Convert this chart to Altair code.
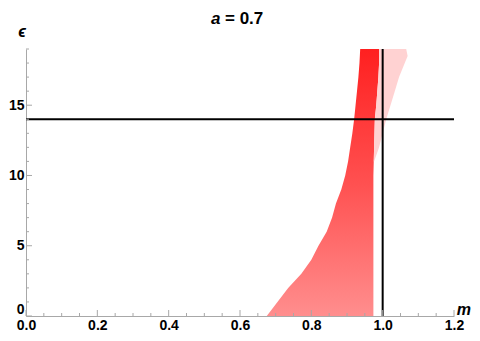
import altair as alt
import pandas as pd

# dense region boundaries (epsilon -> m range)
eps_levels = [0, 1, 2, 3, 4, 5, 6, 7, 8, 9, 10, 11, 12, 13, 14, 15, 16, 17, 18, 19]
m_left = [0.675, 0.705, 0.735, 0.772, 0.800, 0.820, 0.843, 0.858, 0.869, 0.884,
          0.895, 0.903, 0.909, 0.915, 0.920, 0.924, 0.928, 0.932, 0.935, 0.937]
m_right = [0.974, 0.974, 0.974, 0.974, 0.974, 0.974, 0.974, 0.974, 0.974, 0.974,
           0.974, 0.975, 0.976, 0.977, 0.978, 0.982, 0.985, 0.988, 0.990, 0.990]

# sparse scattered region to the right at large epsilon
eps_sparse = [11, 12, 13, 14, 15, 16, 17, 18, 18.5, 19]
m_sparse_in = [0.975, 0.976, 0.977, 0.978, 0.982, 0.985, 0.988, 0.990, 0.990, 0.990]
m_sparse_out = [0.976, 0.990, 1.000, 1.010, 1.022, 1.034, 1.046, 1.062, 1.070, 1.066]

# reference lines
vline_m = [1.0]
hline_eps = [14.0]

# axis ticks
x_major = [0.0, 0.2, 0.4, 0.6, 0.8, 1.0, 1.2]
x_minor = [0.05, 0.1, 0.15, 0.25, 0.3, 0.35, 0.45, 0.5, 0.55, 0.65, 0.7, 0.75,
           0.85, 0.9, 0.95, 1.05, 1.1, 1.15]
y_major = [0, 5, 10, 15]
y_minor = [1, 2, 3, 4, 6, 7, 8, 9, 11, 12, 13, 14, 16, 17, 18, 19]

W, H = 428, 267
FONT = "Liberation Sans"
AX = "#a8a8a8"

xs = alt.Scale(domain=[0, 1.2], nice=False, zero=False)
ys = alt.Scale(domain=[0, 19], nice=False, zero=False)

yaxis = alt.Axis(values=y_major, title=None, grid=False, tickSize=0,
                 labelPadding=2, labelFont=FONT, labelFontSize=14,
                 labelFontWeight="bold", labelColor="black",
                 domainColor=AX, domainWidth=1, labelFlush=True)
xaxis = alt.Axis(values=x_major, format=".1f", title=None, grid=False,
                 tickSize=0, labelPadding=2, labelFont=FONT,
                 labelFontSize=14, labelFontWeight="bold",
                 labelColor="black", domainColor=AX,
                 domainWidth=1, labelFlush=False)

dense = pd.DataFrame({"eps": eps_levels, "lo": m_left, "hi": m_right})
sparse = pd.DataFrame({"eps": eps_sparse, "lo": m_sparse_in, "hi": m_sparse_out})

grad = alt.Gradient(
    gradient="linear",
    stops=[alt.GradientStop(color="#ff8e8e", offset=0),
           alt.GradientStop(color="#ff5050", offset=0.5),
           alt.GradientStop(color="#ff2020", offset=1)],
    x1=0, x2=0, y1=1, y2=0,
)

dense_area = alt.Chart(dense).mark_area(orient="horizontal", fill=grad).encode(
    y=alt.Y("eps:Q", scale=ys, axis=yaxis),
    x=alt.X("lo:Q", scale=xs, axis=xaxis),
    x2="hi:Q",
)

sparse_area = alt.Chart(sparse).mark_area(orient="horizontal", fill="#ffd2d2").encode(
    y=alt.Y("eps:Q", scale=ys, axis=yaxis),
    x=alt.X("lo:Q", scale=xs, axis=xaxis),
    x2="hi:Q",
)

vl = alt.Chart(pd.DataFrame({"m": vline_m})).mark_rule(color="black", strokeWidth=2).encode(
    x=alt.X("m:Q", scale=xs, axis=xaxis))
hl = alt.Chart(pd.DataFrame({"e": hline_eps})).mark_rule(color="black", strokeWidth=2).encode(
    y=alt.Y("e:Q", scale=ys, axis=yaxis))

xt_major = alt.Chart(pd.DataFrame({"v": x_major})).mark_rule(color=AX).encode(
    x=alt.X("v:Q", scale=xs, axis=xaxis), y=alt.value(H), y2=alt.value(H - 6))
xt_minor = alt.Chart(pd.DataFrame({"v": x_minor})).mark_rule(color=AX).encode(
    x=alt.X("v:Q", scale=xs, axis=xaxis), y=alt.value(H), y2=alt.value(H - 3))
yt_major = alt.Chart(pd.DataFrame({"v": y_major})).mark_rule(color=AX).encode(
    y=alt.Y("v:Q", scale=ys, axis=yaxis), x=alt.value(0), x2=alt.value(6))
yt_minor = alt.Chart(pd.DataFrame({"v": y_minor})).mark_rule(color=AX).encode(
    y=alt.Y("v:Q", scale=ys, axis=yaxis), x=alt.value(0), x2=alt.value(3))

one = pd.DataFrame({"k": [0]})
t_a = alt.Chart(one).mark_text(text="a", font=FONT, fontSize=17, fontWeight="bold",
                               fontStyle="italic", align="left", baseline="alphabetic"
                               ).encode(x=alt.value(185), y=alt.value(-25))
t_rest = alt.Chart(one).mark_text(text="= 0.7", font=FONT, fontSize=17, fontWeight="bold",
                                  align="left", baseline="alphabetic"
                                  ).encode(x=alt.value(199), y=alt.value(-25))
t_eps = alt.Chart(one).mark_text(text="ϵ", font=FONT, fontSize=16, fontWeight="bold",
                                 fontStyle="italic", align="center", baseline="alphabetic"
                                 ).encode(x=alt.value(-4), y=alt.value(-12))
t_m = alt.Chart(one).mark_text(text="m", font=FONT, fontSize=16, fontWeight="bold",
                               fontStyle="italic", align="right", baseline="alphabetic"
                               ).encode(x=alt.value(445), y=alt.value(H - 1))

chart = alt.layer(
    dense_area, sparse_area, hl, vl,
    xt_major, xt_minor, yt_major, yt_minor,
    t_a, t_rest, t_eps, t_m,
).properties(
    width=W, height=H,
    autosize=alt.AutoSizeParams(type="none"),
    padding={"left": 18, "top": 41, "right": 18, "bottom": 17},
).configure_view(strokeWidth=0)

chart.save("out.html", embed_options={"renderer": "svg", "actions": False})
